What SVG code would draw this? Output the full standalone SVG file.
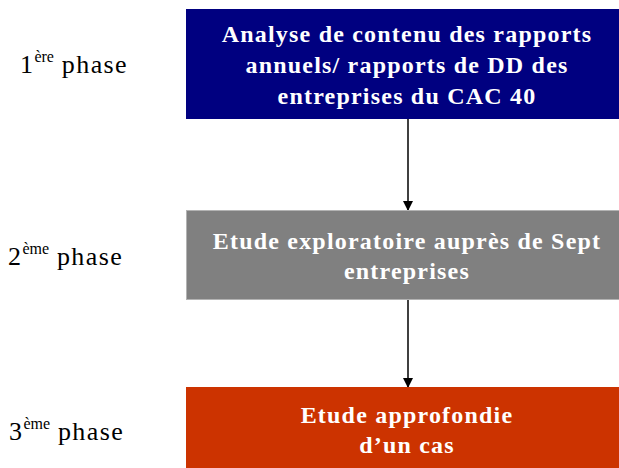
<svg xmlns="http://www.w3.org/2000/svg" width="619" height="468" viewBox="0 0 619 468">
<defs>
<marker id="ah" markerWidth="10" markerHeight="10" refX="9" refY="5" orient="auto" markerUnits="userSpaceOnUse">
<path d="M0,0 L10,5 L0,10 z" fill="#000"/>
</marker>
<style>
.bt{font-family:"Liberation Serif",serif;font-weight:bold;font-size:24px;letter-spacing:1.2px;fill:#fff;text-anchor:middle}
.lb{font-family:"Liberation Serif",serif;font-size:26px;letter-spacing:1.4px;fill:#000}
.sup{font-size:16px;letter-spacing:0}
.cn{stroke:#000;stroke-width:1.5;fill:none;marker-end:url(#ah)}
</style>
</defs>
<g id="connectors">
<line class="cn" x1="408" y1="119" x2="408" y2="210"/>
<line class="cn" x1="408" y1="300" x2="408" y2="387"/>
</g>
<g id="phase1">
<rect x="186" y="9" width="433" height="110" fill="#000080"/>
<text class="bt" x="407" y="42">Analyse de contenu des rapports</text>
<text class="bt" x="407" y="73">annuels/ rapports de DD des</text>
<text class="bt" x="407" y="104">entreprises du CAC 40</text>
</g>
<g id="phase2">
<rect x="186.5" y="210.5" width="433" height="89" fill="#808080" stroke="#b3b3b3" stroke-width="1"/>
<text class="bt" x="407" y="249">Etude exploratoire auprès de Sept</text>
<text class="bt" x="407" y="279">entreprises</text>
</g>
<g id="phase3">
<rect x="186" y="387" width="433" height="81" fill="#cc3300"/>
<text class="bt" x="407" y="423">Etude approfondie</text>
<text class="bt" x="407" y="453">d’un cas</text>
</g>
<g id="label1">
<text class="lb" x="20" y="73">1<tspan class="sup" dy="-11">ère</tspan><tspan dy="11"> phase</tspan></text>
</g>
<g id="label2">
<text class="lb" x="8" y="265">2<tspan class="sup" dy="-11">ème</tspan><tspan dy="11"> phase</tspan></text>
</g>
<g id="label3">
<text class="lb" x="9" y="440">3<tspan class="sup" dy="-11">ème</tspan><tspan dy="11"> phase</tspan></text>
</g>
</svg>
